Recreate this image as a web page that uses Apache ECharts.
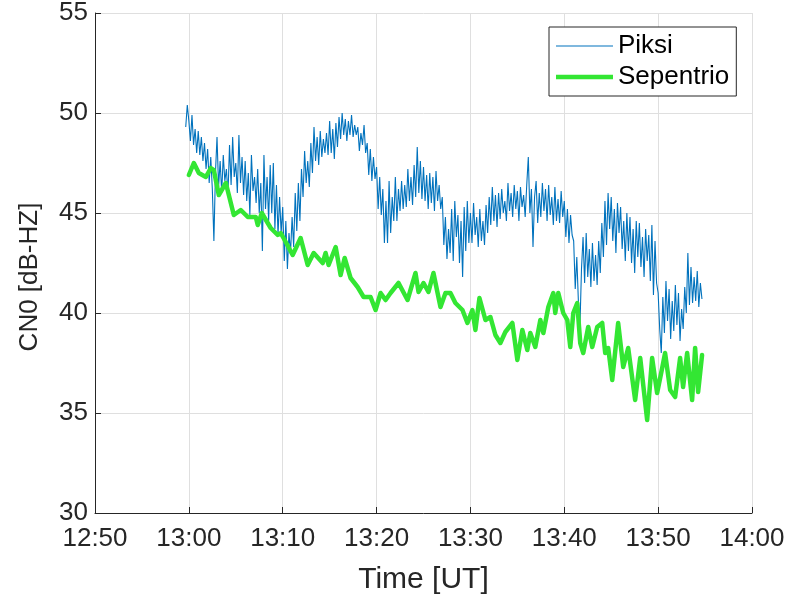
<!DOCTYPE html>
<html>
<head>
<meta charset="utf-8">
<script src="https://cdn.jsdelivr.net/npm/echarts@6/dist/echarts.min.js"></script>
<style>
  html, body { margin: 0; padding: 0; background: #fff; }
  #chart { width: 792px; height: 602px; }
</style>
</head>
<body>
<div id="chart"></div>
<script>
// Time axis: minutes after 12:50 UT
const axisStartHour = 12, axisStartMin = 50;
const xTickMinutes = [0, 10, 20, 30, 40, 50, 60, 70];
const yTicks = [30, 35, 40, 45, 50, 55];

// Piksi C/N0, 10 s samples starting 12:59:40 UT
const piksiStartMin = 9 + 40 / 60;
const piksiStepMin = 10 / 60;
const piksiCn0 = [
  49.3, 50.4,
  49.6, 48.6, 49.9, 48.4, 49.2, 48.0,
  49.1, 47.9, 48.8, 47.6, 48.5, 47.2,
  48.2, 46.5, 47.8, 46.2, 43.6, 47.0,
  48.8, 46.3, 47.6, 46.0, 47.9, 46.6,
  47.2, 45.9, 48.4, 46.4, 48.8, 46.8,
  47.5, 46.0, 48.9, 46.5, 47.8, 45.9,
  47.6, 45.6, 47.0, 44.9, 47.9, 46.1,
  46.8, 45.5, 47.2, 45.0, 46.5, 43.1,
  47.9, 45.2, 46.8, 44.6, 47.4, 45.0,
  47.5, 44.2, 46.4, 43.9, 45.8, 44.0,
  45.3, 42.6, 44.6, 42.2, 44.0, 43.0,
  44.8, 43.3, 46.0, 44.1, 46.5, 44.6,
  47.2, 45.8, 48.1, 46.5, 47.6, 46.3,
  48.5, 47.0, 49.3, 47.6, 48.8, 47.4,
  49.1, 47.8, 48.7, 48.0, 49.0, 47.9,
  49.6, 48.0, 49.2, 47.7, 49.5, 48.3,
  49.8, 48.7, 50.0, 48.9, 49.7, 48.6,
  49.6, 48.9, 49.9, 48.8, 49.4, 48.9,
  49.3, 48.1, 49.0, 48.4, 49.4, 48.0,
  48.5, 46.9, 48.2, 46.6, 47.8, 46.7,
  47.3, 45.2, 46.8, 44.9, 46.2, 43.5,
  45.6, 43.5, 46.6, 44.0, 45.8, 44.6,
  46.8, 44.6, 46.2, 45.1, 46.6, 45.2,
  46.4, 45.3, 47.2, 45.6, 46.8, 45.4,
  47.4, 45.8, 48.3, 46.0, 47.6, 45.7,
  47.3, 45.6, 46.9, 45.2, 47.0, 45.5,
  46.8, 45.1, 47.1, 45.6, 46.4, 45.2,
  45.8, 43.4, 44.8, 42.7, 44.2, 43.0,
  45.2, 42.6, 45.6, 43.8, 44.9, 42.5,
  44.6, 41.8, 45.3, 43.1, 45.6, 43.5,
  45.0, 43.5, 45.5, 43.9, 44.8, 43.3,
  45.2, 43.6, 44.6, 43.4, 45.4, 44.0,
  45.8, 44.4, 46.3, 44.6, 45.9, 44.3,
  46.0, 44.7, 46.2, 45.0, 45.6, 44.6,
  46.5, 45.1, 46.0, 44.8, 46.4, 45.2,
  46.1, 44.6, 46.3, 45.3, 45.9, 44.8,
  46.4, 47.8, 45.0, 46.2, 43.3, 45.8,
  46.6, 44.5, 46.0, 44.8, 46.5, 45.1,
  46.2, 44.6, 46.4, 44.9, 45.8, 44.4,
  46.3, 44.6, 45.7, 44.5, 46.1, 44.8,
  45.6, 43.8, 45.2, 43.5, 44.9, 43.9,
  43.6, 41.2, 42.8, 40.6, 39.3, 42.2,
  43.8, 41.5, 44.0, 41.8, 43.2, 41.3,
  43.5, 41.6, 42.9, 41.4, 43.6, 42.0,
  44.5, 42.8, 45.6, 43.4, 46.0, 44.2,
  45.8, 43.6, 45.2, 43.0, 45.5, 44.0,
  45.3, 43.2, 44.6, 42.6, 45.0, 43.1,
  44.8, 42.5, 44.2, 42.0, 44.6, 42.8,
  44.5, 42.3, 43.8, 41.8, 44.2, 42.6,
  43.9, 41.6, 44.4, 40.9, 43.6, 41.5,
  41.0, 39.2, 38.0, 40.8, 39.0, 41.6,
  39.6, 41.2, 38.7, 40.6, 39.1, 41.4,
  39.4, 41.0, 38.6, 40.2, 39.2, 41.3,
  40.0, 43.0, 40.4, 42.3, 40.5, 41.8,
  40.6, 42.1, 40.3, 41.5, 40.7
];

// Sepentrio C/N0: sample times (minutes after 12:50) and values
const sepMinutes = [
  10.00, 10.53, 11.06, 11.81, 12.34, 12.66, 13.19, 13.94, 14.79, 15.53,
  16.28, 17.13, 17.34, 17.77, 18.72, 19.47, 19.79, 20.32, 21.06, 21.91,
  22.66, 23.30, 24.26, 24.57, 24.89, 25.64, 26.17, 26.60, 27.23, 27.98,
  28.62, 29.36, 29.89, 30.43, 30.96, 31.49, 32.34, 33.30, 34.15, 34.47,
  35.00, 35.53, 36.06, 36.81, 37.34, 37.87, 38.40, 39.15, 39.68, 40.21,
  40.53, 40.96, 41.60, 42.13, 42.66, 43.19, 43.72, 44.47, 45.00, 45.53,
  46.06, 46.38, 46.91, 47.45, 47.77, 48.30, 48.83, 49.04, 49.36, 49.89,
  50.32, 50.64, 50.96, 51.38, 51.70, 52.02, 52.55, 52.98, 53.51, 54.04,
  54.36, 54.68, 55.11, 55.74, 56.28, 56.81, 57.55, 58.09, 58.83, 59.36,
  59.89, 60.43, 60.74, 61.28, 61.81, 62.34, 62.66, 63.09, 63.62, 63.94,
  64.26, 64.68
];
const sepCn0 = [
  46.9, 47.5, 47.0, 46.8, 47.25, 47.15, 45.9, 46.5, 44.9, 45.15,
  44.8, 44.8, 44.4, 45.0, 44.25, 43.9, 44.0, 43.55, 42.9, 43.75,
  42.4, 43.0, 42.5, 43.0, 42.4, 43.3, 41.9, 42.75, 41.75, 41.3,
  40.8, 40.8, 40.15, 41.0, 40.65, 41.0, 41.5, 40.65, 42.0, 41.05,
  41.5, 41.05, 42.0, 40.3, 41.0, 41.0, 40.5, 40.15, 39.5, 40.15,
  39.15, 40.75, 39.65, 39.8, 38.9, 38.5, 39.05, 39.5, 37.65, 39.15,
  38.15, 39.0, 38.3, 39.65, 39.0, 40.3, 41.0, 40.0, 41.0, 40.0,
  39.65, 38.3, 40.0, 40.5, 38.5, 38.0, 39.3, 38.3, 39.3, 39.5,
  38.0, 38.25, 36.65, 39.5, 37.3, 38.25, 35.65, 37.75, 34.65, 37.75,
  36.0, 37.25, 38.0, 36.15, 35.8, 37.75, 36.3, 38.0, 35.65, 38.25,
  36.05, 37.9
];

const piksiData = piksiCn0.map((v, i) => [piksiStartMin + i * piksiStepMin, v]);
const sepData = sepMinutes.map((m, i) => [m, sepCn0[i]]);

function clockLabel(m) {
  const total = axisStartHour * 60 + axisStartMin + Math.round(m);
  const h = Math.floor(total / 60), mm = total % 60;
  return h + ':' + (mm < 10 ? '0' : '') + mm;
}

const textColor = '#262626';
const fontFamily = 'Liberation Sans, Arial, sans-serif';
const piksiColor = '#0072BD';
const sepColor = '#33E633';

const chart = echarts.init(document.getElementById('chart'), null, { renderer: 'canvas' });
chart.setOption({
  animation: false,
  backgroundColor: '#ffffff',
  grid: { left: 95, right: 40, top: 13, bottom: 89, containLabel: false },
  legend: {
    orient: 'vertical',
    left: 549,
    top: 27,
    padding: [6, 7, 6, 7],
    itemWidth: 57,
    itemHeight: 26,
    itemGap: 5,
    borderColor: textColor,
    borderWidth: 1,
    borderRadius: 0,
    backgroundColor: '#ffffff',
    textStyle: { fontSize: 26, color: '#000', fontFamily: fontFamily },
    data: [
      { name: 'Piksi', icon: 'path://M0,0H57V1H0Z' },
      { name: 'Sepentrio', icon: 'path://M0,0H57V4.5H0Z' }
    ]
  },
  xAxis: {
    type: 'value',
    min: xTickMinutes[0],
    max: xTickMinutes[xTickMinutes.length - 1],
    interval: 10,
    name: 'Time [UT]',
    nameLocation: 'middle',
    nameGap: 52,
    nameTextStyle: { fontSize: 30, color: textColor, fontFamily: fontFamily },
    axisLine: { lineStyle: { color: textColor, width: 1 } },
    axisTick: { inside: true, length: 6, lineStyle: { color: textColor } },
    axisLabel: {
      fontSize: 26, color: textColor, fontFamily: fontFamily, margin: 13,
      formatter: v => clockLabel(v)
    },
    splitLine: { show: true, lineStyle: { color: '#dfdfdf', width: 1 } }
  },
  yAxis: {
    type: 'value',
    min: yTicks[0],
    max: yTicks[yTicks.length - 1],
    interval: 5,
    name: 'CN0 [dB-HZ]',
    nameLocation: 'middle',
    nameGap: 52,
    nameTextStyle: { fontSize: 26, color: textColor, fontFamily: fontFamily, padding: [0, 28, 0, 0] },
    axisLine: { show: true, lineStyle: { color: textColor, width: 1 } },
    axisTick: { show: true, inside: true, length: 6, lineStyle: { color: textColor } },
    axisLabel: { fontSize: 26, color: textColor, fontFamily: fontFamily, margin: 7 },
    splitLine: { show: true, lineStyle: { color: '#dfdfdf', width: 1 } }
  },
  series: [
    {
      name: 'Piksi',
      type: 'line',
      data: piksiData,
      symbol: 'none',
      lineStyle: { color: piksiColor, width: 1.1 },
      itemStyle: { color: piksiColor },
      z: 2
    },
    {
      name: 'Sepentrio',
      type: 'line',
      data: sepData,
      symbol: 'none',
      lineStyle: { color: sepColor, width: 4.5, join: 'round', cap: 'round' },
      itemStyle: { color: sepColor },
      z: 3
    }
  ]
});
</script>
</body>
</html>
